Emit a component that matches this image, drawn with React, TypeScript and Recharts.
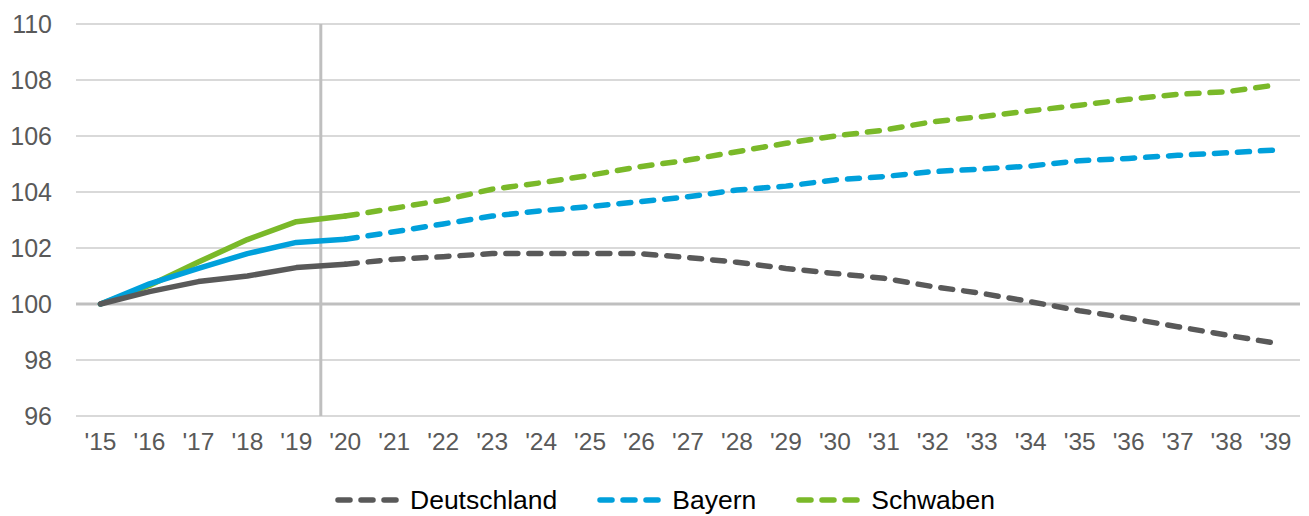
import React from 'react';
import {
  LineChart,
  Line,
  XAxis,
  YAxis,
  CartesianGrid,
  ReferenceLine,
  Legend,
} from 'recharts';

// years '15 .. '39 (actuals up to '20, projection from '20)
const years = [
  15, 16, 17, 18, 19, 20, 21, 22, 23, 24, 25, 26, 27, 28, 29, 30, 31, 32, 33, 34, 35, 36, 37, 38, 39,
];
const yTicks = [96, 98, 100, 102, 104, 106, 108, 110];
const lastActualYear = 20;

const deutschland = [
  100, 100.44, 100.8, 101.0, 101.3, 101.42, 101.6, 101.69, 101.8, 101.8, 101.8, 101.8, 101.66,
  101.49, 101.27, 101.09, 100.92, 100.62, 100.38, 100.08, 99.76, 99.49, 99.19, 98.89, 98.6,
];
const bayern = [
  100, 100.72, 101.27, 101.8, 102.2, 102.31, 102.58, 102.86, 103.14, 103.33, 103.48, 103.65, 103.83,
  104.07, 104.21, 104.43, 104.55, 104.73, 104.82, 104.93, 105.12, 105.2, 105.31, 105.4, 105.5,
];
const schwaben = [
  100, 100.66, 101.5, 102.3, 102.94, 103.14, 103.42, 103.71, 104.1, 104.33, 104.6, 104.9, 105.14,
  105.44, 105.74, 106.0, 106.21, 106.51, 106.69, 106.9, 107.1, 107.31, 107.49, 107.58, 107.82,
];

const series = [
  { key: 'schwaben', name: 'Schwaben', values: schwaben, color: '#7ab929' },
  { key: 'bayern', name: 'Bayern', values: bayern, color: '#00a0db' },
  { key: 'deutschland', name: 'Deutschland', values: deutschland, color: '#595959' },
];
const legendOrder = ['deutschland', 'bayern', 'schwaben'];

// solid part up to lastActualYear, dashed part from lastActualYear on
const rows = years.map((year, i) => {
  const row: Record<string, number | null> = { year };
  series.forEach((s) => {
    row[`${s.key}Ist`] = year <= lastActualYear ? s.values[i] : null;
    row[`${s.key}Prog`] = year >= lastActualYear ? s.values[i] : null;
  });
  return row;
});

const FONT = '"Liberation Sans", Arial, sans-serif';

function DashedLegend() {
  return (
    <div
      style={{
        height: 30,
        display: 'flex',
        alignItems: 'center',
        paddingLeft: 327,
        fontFamily: FONT,
        fontSize: 26.5,
        color: '#000',
      }}
    >
      {legendOrder.map((k) => {
        const s = series.find((x) => x.key === k)!;
        return (
          <div key={k} style={{ display: 'flex', alignItems: 'center', marginRight: 40 }}>
            <svg width={66} height={10} style={{ marginRight: 9 }}>
              <line
                x1={3}
                y1={5}
                x2={63}
                y2={5}
                stroke={s.color}
                strokeWidth={5.5}
                strokeDasharray="12 11"
                strokeLinecap="round"
              />
            </svg>
            <span>{s.name}</span>
          </div>
        );
      })}
    </div>
  );
}

export default function App() {
  return (
    <LineChart
      width={1293}
      height={508}
      data={rows}
      margin={{ top: 16, right: 1, bottom: 1, left: 0 }}
    >
      <CartesianGrid horizontal vertical={false} stroke="#d9d9d9" strokeWidth={2} />
      <XAxis
        dataKey="year"
        type="number"
        domain={[14.5, 39.5]}
        ticks={years}
        tickFormatter={(v: number) => `'${v}`}
        axisLine={false}
        tickLine={false}
        tickSize={0}
        tickMargin={17}
        height={69}
        interval={0}
        tick={{ fill: '#595959', fontSize: 24.5, fontFamily: FONT }}
      />
      <YAxis
        domain={[96, 110]}
        ticks={yTicks}
        axisLine={false}
        tickLine={false}
        tickSize={0}
        tickMargin={24}
        width={68}
        interval={0}
        tick={{ fill: '#595959', fontSize: 25, fontFamily: FONT }}
      />
      <ReferenceLine y={100} stroke="#bfbfbf" strokeWidth={3} />
      <ReferenceLine x={19.5} stroke="#bfbfbf" strokeWidth={3} />
      <Legend verticalAlign="bottom" content={() => <DashedLegend />} />
      {series.map((s) => (
        <Line
          key={`${s.key}Prog`}
          dataKey={`${s.key}Prog`}
          stroke={s.color}
          strokeWidth={5.5}
          strokeDasharray="12 11"
          strokeLinecap="round"
          dot={false}
          activeDot={false}
          connectNulls={false}
          isAnimationActive={false}
          legendType="none"
        />
      ))}
      {series.map((s) => (
        <Line
          key={`${s.key}Ist`}
          dataKey={`${s.key}Ist`}
          stroke={s.color}
          strokeWidth={5.5}
          strokeLinecap="round"
          strokeLinejoin="round"
          dot={false}
          activeDot={false}
          connectNulls={false}
          isAnimationActive={false}
          legendType="none"
        />
      ))}
    </LineChart>
  );
}
